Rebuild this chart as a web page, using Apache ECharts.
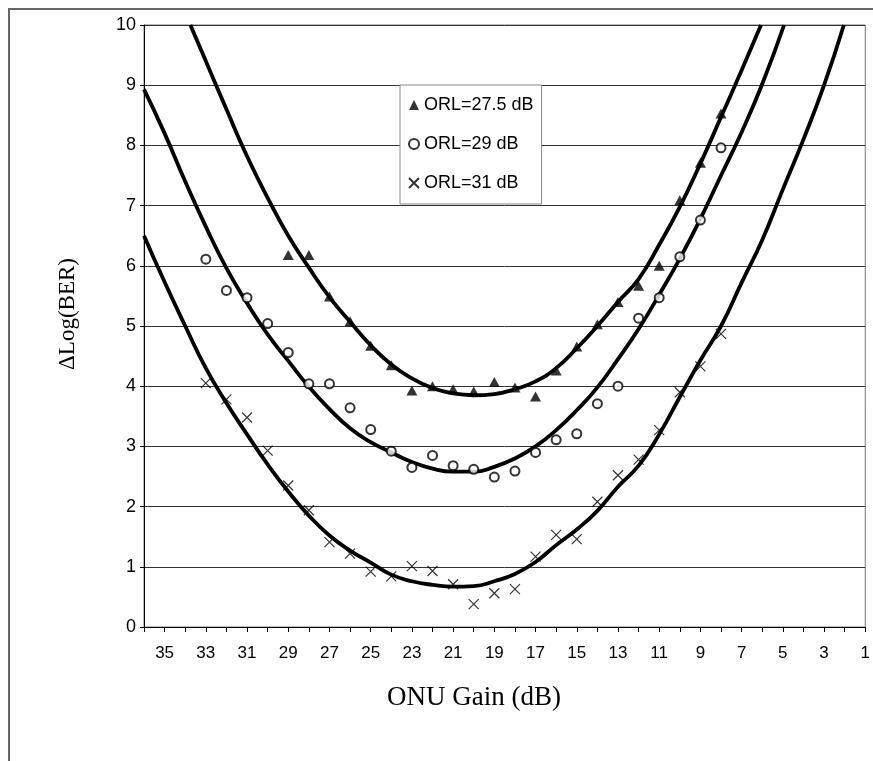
<!DOCTYPE html>
<html><head><meta charset="utf-8">
<script src="https://cdn.jsdelivr.net/npm/echarts@6/dist/echarts.min.js"></script>
<style>html,body{margin:0;padding:0;background:#fff}#c{width:873px;height:761px}</style>
</head><body><div id="c"></div>
<script>
// Measured points (ONU gain in dB, ΔLog(BER))
const gainTri = [29,28,27,26,25,24,23,22,21,20,19,18,17,16,15,14,13,12,11,10,9,8];
const valTri  = [6.18,6.18,5.49,5.08,4.67,4.35,3.93,4.0,3.95,3.91,4.07,3.98,3.83,4.26,4.66,5.03,5.40,5.67,6.0,7.09,7.71,8.53];
const gainCirc = [33,32,31,30,29,28,27,26,25,24,23,22,21,20,19,18,17,16,15,14,13,12,11,10,9,8];
const valCirc  = [6.11,5.59,5.47,5.04,4.56,4.04,4.04,3.64,3.28,2.92,2.65,2.85,2.68,2.62,2.49,2.59,2.90,3.11,3.21,3.71,4.0,5.13,5.47,6.15,6.76,7.96];
const gainCross = [33,32,31,30,29,28,27,26,25,24,23,22,21,20,19,18,17,16,15,14,13,12,11,10,9,8];
const valCross  = [4.05,3.78,3.48,2.93,2.35,1.94,1.41,1.22,0.92,0.84,1.01,0.93,0.71,0.38,0.56,0.63,1.17,1.53,1.46,2.08,2.52,2.78,3.27,3.9,4.33,4.87];

// Fitted curves
const triCurveX = [33.75,33,32,31,30,29,28,27,26,25,24,23,22,21,20,19,18,17,16,15,14,13,12,11,10,9,8,7,6.06];
const triCurveY = [10,9.4,8.6,7.82,7.13,6.5,5.97,5.48,5.07,4.68,4.36,4.13,3.97,3.88,3.85,3.87,3.95,4.08,4.3,4.63,5.0,5.4,5.78,6.35,6.98,7.7,8.47,9.25,10];
const circCurveX = [36,35,34,33,32,31,30,29,28,27,26,25,24,23,22,21,20,19,18,17,16,15,14,13,12,11,10,9,8,7,6,4.94];
const circCurveY = [8.93,8.2,7.4,6.65,5.96,5.38,4.86,4.42,3.99,3.62,3.3,3.07,2.9,2.74,2.63,2.58,2.58,2.66,2.8,3.0,3.27,3.6,3.98,4.45,4.95,5.52,6.12,6.78,7.5,8.22,9.02,10];
const crossCurveX = [36,35,34,33,32,31,30,29,28,27,26,25,24,23,22,21,20,19,18,17,16,15,14,13,12,11,10,9,8,7,6,5,4,3,2.04];
const crossCurveY = [6.5,5.73,5.0,4.3,3.72,3.2,2.7,2.25,1.85,1.52,1.27,1.07,0.87,0.76,0.7,0.67,0.68,0.76,0.88,1.08,1.36,1.62,1.93,2.33,2.68,3.2,3.82,4.43,5.0,5.72,6.43,7.27,8.1,9.0,10];

const seriesNames = ['ORL=27.5 dB','ORL=29 dB','ORL=31 dB'];
const xTickLabels = ['35','33','31','29','27','25','23','21','19','17','15','13','11','9','7','5','3','1'];
const yTickLabels = ['0','1','2','3','4','5','6','7','8','9','10'];
const xTitle = 'ONU Gain (dB)';
const yTitle = 'ΔLog(BER)';

const zip = (xs, ys) => xs.map((x, i) => [x, ys[i]]);

const chart = echarts.init(document.getElementById('c'), null, {renderer: 'canvas'});
const curveStyle = {type: 'line', smooth: 0.5, showSymbol: false, silent: true,
  lineStyle: {color: '#000', width: 3.8}, z: 2};
chart.setOption({
  animation: false,
  backgroundColor: '#fff',
  grid: {left: 144, right: 4, top: 25, bottom: 134, show: true, borderColor: '#777', borderWidth: 1, backgroundColor: 'transparent'},
  xAxis: {
    type: 'value', inverse: true, min: 1, max: 36, interval: 1,
    axisLine: {onZero: false, lineStyle: {color: '#000', width: 1}},
    axisTick: {show: true, length: 5, lineStyle: {color: '#000'}},
    axisLabel: {formatter: v => xTickLabels.includes(String(v)) ? String(v) : '',
      fontSize: 17, color: '#000', fontFamily: 'Liberation Sans, Arial', margin: 18},
    splitLine: {show: false}
  },
  yAxis: {
    type: 'value', min: 0, max: 10, interval: 1,
    axisLine: {show: true, lineStyle: {color: '#000', width: 1}},
    axisTick: {show: true, length: 4, lineStyle: {color: '#000'}},
    axisLabel: {formatter: v => yTickLabels[v] || '', fontSize: 18, color: '#000', fontFamily: 'Liberation Sans, Arial', margin: 8},
    splitLine: {show: true, lineStyle: {color: '#333', width: 1}}
  },
  legend: {
    data: seriesNames, orient: 'vertical', left: 400, top: 85,
    itemWidth: 10, itemHeight: 10, itemGap: 21,
    padding: [11, 8, 12, 8],
    borderColor: '#888', borderWidth: 1, backgroundColor: '#fff',
    textStyle: {fontSize: 18, color: '#000', fontFamily: 'Liberation Sans, Arial'},
    z: 10
  },
  graphic: [
    {type: 'rect', shape: {x: 9, y: 9, width: 900, height: 800}, style: {fill: 'none', stroke: '#666', lineWidth: 2}, silent: true},
    {type: 'text', x: 474, y: 698, style: {text: xTitle, font: '27px "Liberation Serif", "Times New Roman", serif', fill: '#000', align: 'center', verticalAlign: 'middle'}},
    {type: 'text', x: 68, y: 314, rotation: Math.PI / 2, style: {text: yTitle, font: '23px "Liberation Serif", "Times New Roman", serif', fill: '#000', align: 'center', verticalAlign: 'middle'}}
  ],
  series: [
    Object.assign({name: 'fit1', data: zip(triCurveX, triCurveY)}, curveStyle),
    Object.assign({name: 'fit2', data: zip(circCurveX, circCurveY)}, curveStyle),
    Object.assign({name: 'fit3', data: zip(crossCurveX, crossCurveY)}, curveStyle),
    {name: seriesNames[0], type: 'scatter', data: zip(gainTri, valTri), symbol: 'triangle', symbolSize: [11, 10],
      itemStyle: {color: '#000'}, z: 3},
    {name: seriesNames[1], type: 'scatter', data: zip(gainCirc, valCirc), symbol: 'emptyCircle', symbolSize: 9,
      itemStyle: {color: '#000', borderColor: '#000', borderWidth: 1}, z: 3},
    {name: seriesNames[2], type: 'scatter', data: zip(gainCross, valCross), symbol: 'path://M0,0L10,10M10,0L0,10', symbolSize: 10,
      itemStyle: {color: '#000', borderColor: '#000', borderWidth: 1.2}, z: 3}
  ]
});
</script></body></html>
